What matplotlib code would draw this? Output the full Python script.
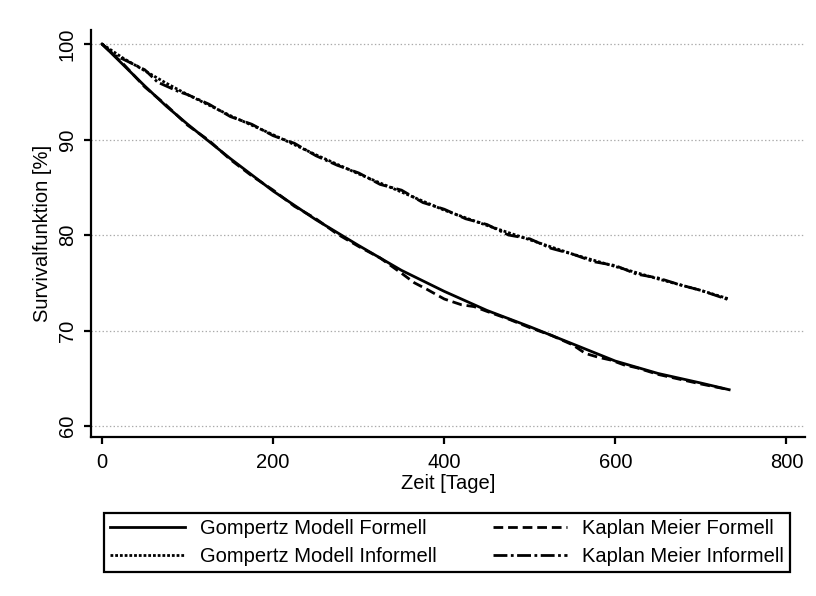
import matplotlib
matplotlib.use("Agg")
import matplotlib.pyplot as plt

plt.rcParams['font.family'] = ['Liberation Sans', 'DejaVu Sans']
plt.rcParams['lines.scale_dashes'] = False

# Gompertz model curves
gomp_t = [0, 25, 50, 75, 100, 150, 200, 250, 300, 350, 400, 450, 500, 550, 600, 650, 700, 733]
gomp_formell = [100, 97.8, 95.6, 93.5, 91.6, 88.0, 84.6, 81.6, 78.9, 76.3, 74.1, 72.1,
                70.4, 68.6, 66.8, 65.5, 64.5, 63.8]
gomp_informell = [100, 98.5, 97.2, 95.9, 94.7, 92.5, 90.5, 88.4, 86.4, 84.5, 82.6, 81.0,
                  79.5, 78.0, 76.7, 75.4, 74.2, 73.3]

# Kaplan-Meier estimates
km_f_t = [0, 25, 50, 75, 100, 125, 150, 175, 200, 225, 250, 275, 300, 325, 350, 365, 380,
          400, 420, 435, 450, 475, 500, 525, 550, 565, 580, 595, 610, 625, 650, 675, 700, 733]
km_formell = [100, 97.9, 95.5, 93.6, 91.5, 89.9, 87.9, 86.2, 84.7, 83.0, 81.7, 80.1, 78.8,
              77.6, 76.0, 75.0, 74.3, 73.3, 72.7, 72.5, 72.0, 71.2, 70.3, 69.5, 68.5, 67.6,
              67.2, 66.9, 66.4, 66.1, 65.4, 64.9, 64.4, 63.8]
km_i_t = [0, 15, 25, 50, 65, 75, 90, 100, 125, 150, 175, 200, 225, 250, 275, 300, 325, 350,
          375, 400, 425, 450, 475, 500, 525, 550, 575, 600, 625, 650, 675, 700, 733]
km_informell = [100, 98.8, 98.4, 97.3, 96.0, 95.6, 95.0, 94.7, 93.7, 92.4, 91.6, 90.4, 89.6,
                88.3, 87.3, 86.5, 85.3, 84.7, 83.4, 82.7, 81.7, 81.1, 80.0, 79.6, 78.6, 78.0,
                77.2, 76.8, 75.9, 75.5, 74.8, 74.2, 73.2]

x_ticks = [0, 200, 400, 600, 800]
y_ticks = [60, 70, 80, 90, 100]
labels = ["Gompertz Modell Formell", "Gompertz Modell Informell",
          "Kaplan Meier Formell", "Kaplan Meier Informell"]

fig = plt.figure(figsize=(8.16, 5.96), dpi=100)
ax = fig.add_axes([0.1112, 0.2663, 0.8754, 0.6834])

lw = 2.0
l1, = ax.plot(gomp_t, gomp_formell, color='black', lw=lw, linestyle='-')
l2, = ax.plot(gomp_t, gomp_informell, color='black', lw=lw, linestyle=(0, (2, 1.4)))
l3, = ax.plot(km_f_t, km_formell, color='black', lw=lw, linestyle=(0, (7, 3.5)))
l4, = ax.plot(km_i_t, km_informell, color='black', lw=lw, linestyle=(0, (10, 2.5, 2, 2.5)))

ax.set_xlim(-13.2, 821.7)
ax.set_ylim(58.82, 101.47)
ax.set_xticks(x_ticks)
ax.set_yticks(y_ticks)
ax.yaxis.grid(True, color='#aaaaaa', linestyle=':', linewidth=0.9)
ax.set_axisbelow(True)

for s in ['top', 'right']:
    ax.spines[s].set_visible(False)
for s in ['left', 'bottom']:
    ax.spines[s].set_linewidth(1.6)

ax.tick_params(axis='both', direction='out', length=5, width=1.6, labelsize=14.5)
ax.tick_params(axis='x', pad=6)
ax.tick_params(axis='y', pad=5, labelrotation=90)
for lab in ax.get_yticklabels():
    lab.set_va('center')

ax.set_xlabel("Zeit [Tage]", fontsize=14.5, labelpad=2)
ax.set_ylabel("Survivalfunktion [%]", fontsize=14.5, labelpad=4)

leg = fig.legend([l1, l2, l3, l4], labels, ncol=2, loc='lower left',
                 bbox_to_anchor=(0.1275, 0.0403, 0.8407, 0.1124), mode='expand',
                 borderaxespad=0, fontsize=14.5, handlelength=3.7, handletextpad=0.75,
                 labelspacing=0.45, fancybox=False, edgecolor='black', framealpha=1,
                 borderpad=0.3)
leg.get_frame().set_linewidth(1.6)

fig.savefig("out.png", dpi=100)
